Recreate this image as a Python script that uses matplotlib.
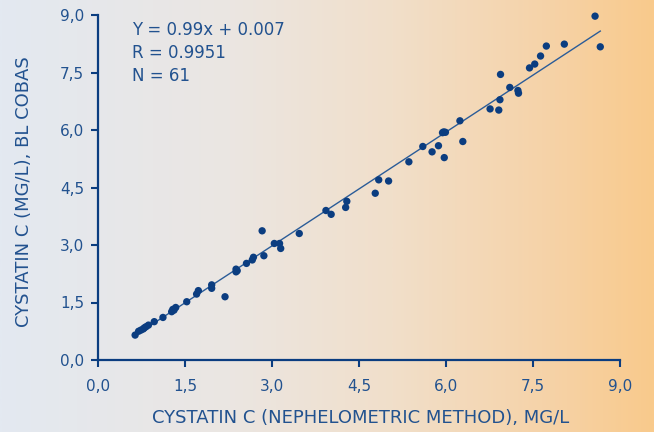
import numpy as np
import matplotlib
matplotlib.use("Agg")
import matplotlib.pyplot as plt
from matplotlib.colors import LinearSegmentedColormap

# ---- data ----
neph_x = [0.64, 0.70, 0.74, 0.78, 0.80, 0.83, 0.87, 0.97, 1.12, 1.27, 1.29, 1.31, 1.34,
          1.53, 1.70, 1.73, 1.96, 1.96, 2.19, 2.38, 2.38, 2.40, 2.56, 2.66, 2.68, 2.86,
          3.15, 2.83, 3.04, 3.13, 3.47, 3.93, 4.02, 4.27, 4.29, 4.78, 4.84, 5.01, 5.36,
          5.60, 5.76, 5.87, 5.97, 5.94, 5.96, 5.99, 6.24, 6.29, 6.76, 6.91, 6.93, 7.10,
          7.24, 7.25, 6.94, 7.44, 7.53, 7.63, 7.73, 8.04, 8.57, 8.66]
cobas_y = [0.65, 0.75, 0.78, 0.81, 0.84, 0.87, 0.91, 1.00, 1.11, 1.26, 1.32, 1.30, 1.37,
           1.52, 1.72, 1.81, 1.87, 1.96, 1.65, 2.30, 2.37, 2.33, 2.52, 2.61, 2.68, 2.72,
           2.91, 3.37, 3.04, 3.04, 3.30, 3.90, 3.80, 3.98, 4.14, 4.35, 4.70, 4.67, 5.17,
           5.57, 5.43, 5.59, 5.28, 5.93, 5.95, 5.94, 6.24, 5.70, 6.55, 6.52, 6.79, 7.11,
           7.03, 6.96, 7.45, 7.62, 7.72, 7.93, 8.19, 8.24, 8.97, 8.17]
fit_slope = 0.99
fit_intercept = 0.007
tick_values = [0.0, 1.5, 3.0, 4.5, 6.0, 7.5, 9.0]
tick_labels = ["0,0", "1,5", "3,0", "4,5", "6,0", "7,5", "9,0"]
stats_lines = ["Y = 0.99x + 0.007", "R = 0.9951", "N = 61"]
x_title = "CYSTATIN C (NEPHELOMETRIC METHOD), MG/L"
y_title = "CYSTATIN C (MG/L), BL COBAS"

# ---- styling ----
W, H = 654, 432
dark = "#0b3d80"
txt = "#22528f"
line_c = "#2b5c98"

fig = plt.figure(figsize=(W / 100, H / 100), dpi=100)

# background gradient
bg = fig.add_axes([0, 0, 1, 1], zorder=-10)
cmap = LinearSegmentedColormap.from_list(
    "bg", [(0.0, "#e3e9f1"), (0.35, "#ebe6e2"), (0.6, "#f1dfca"),
           (0.85, "#f6d2a6"), (1.0, "#f9ca8c")])
grad = np.linspace(0, 1, 512).reshape(1, -1)
bg.imshow(grad, aspect="auto", cmap=cmap, extent=[0, 1, 0, 1])
bg.set_axis_off()

ax = fig.add_axes([98 / W, (H - 360) / H, (620 - 98) / W, (360 - 15) / H])
ax.patch.set_alpha(0)

ax.scatter(neph_x, cobas_y, s=28, color=dark, edgecolors="none", zorder=3,
           clip_on=False)
xf = np.array([min(neph_x), max(neph_x)])
ax.plot(xf, fit_slope * xf + fit_intercept, color=line_c, lw=1.0, zorder=2)

ax.set_xlim(0, 9)
ax.set_ylim(0, 9)
ax.set_xticks(tick_values)
ax.set_xticklabels(tick_labels)
ax.set_yticks(tick_values)
ax.set_yticklabels(tick_labels)

for s in ["top", "right"]:
    ax.spines[s].set_visible(False)
for s in ["left", "bottom"]:
    ax.spines[s].set_color(dark)
    ax.spines[s].set_linewidth(1.6)
ax.tick_params(axis="both", colors=dark, width=1.5, length=5, labelcolor=txt,
               labelsize=11)
ax.tick_params(axis="x", pad=9)
ax.tick_params(axis="y", pad=5)

fig.text(361 / W, (H - 418) / H, x_title, ha="center", va="center",
         color=txt, fontsize=13)
fig.text(24 / W, (H - 192) / H, y_title, ha="center", va="center",
         rotation=90, color=txt, fontsize=13)

for i, s in enumerate(stats_lines):
    fig.text(132 / W, (H - (30 + 23 * i)) / H, s, ha="left", va="center",
             color=txt, fontsize=12)

fig.savefig("out.png", dpi=100)
